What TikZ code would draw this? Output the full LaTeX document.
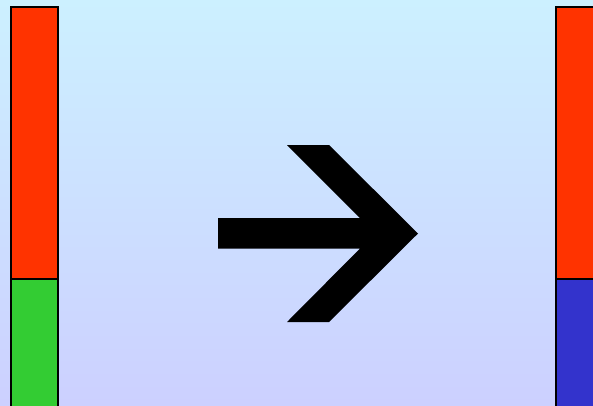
\documentclass[tikz,border=0pt]{standalone}
\begin{document}
\begin{tikzpicture}[x=1pt,y=-1pt,
  bar/.style={draw=black,line width=2pt},
  arrowshape/.style={fill=black}]
\definecolor{bgtop}{RGB}{204,240,255}
\definecolor{bgbot}{RGB}{204,208,255}
\definecolor{barred}{RGB}{255,51,0}
\definecolor{bargreen}{RGB}{51,204,51}
\definecolor{barblue}{RGB}{51,51,204}
\useasboundingbox (0,0) rectangle (593,405);
\clip (0,0) rectangle (593,405);
\shade[top color=bgtop,bottom color=bgbot] (0,0) rectangle (593,405);
% left bar
\filldraw[bar,fill=bargreen] (11,279) rectangle (58,420);
\filldraw[bar,fill=barred] (11,7) rectangle (58,279);
% right bar
\filldraw[bar,fill=barblue] (555.5,279) rectangle (610,420);
\filldraw[bar,fill=barred] (555.5,7) rectangle (610,279);
% arrow
\fill[arrowshape] (218,218) -- (360,218) -- (287,145) -- (329,145) -- (418,233.5)
  -- (329,322) -- (287,322) -- (360,248.5) -- (218,248.5) -- cycle;
\end{tikzpicture}
\end{document}
